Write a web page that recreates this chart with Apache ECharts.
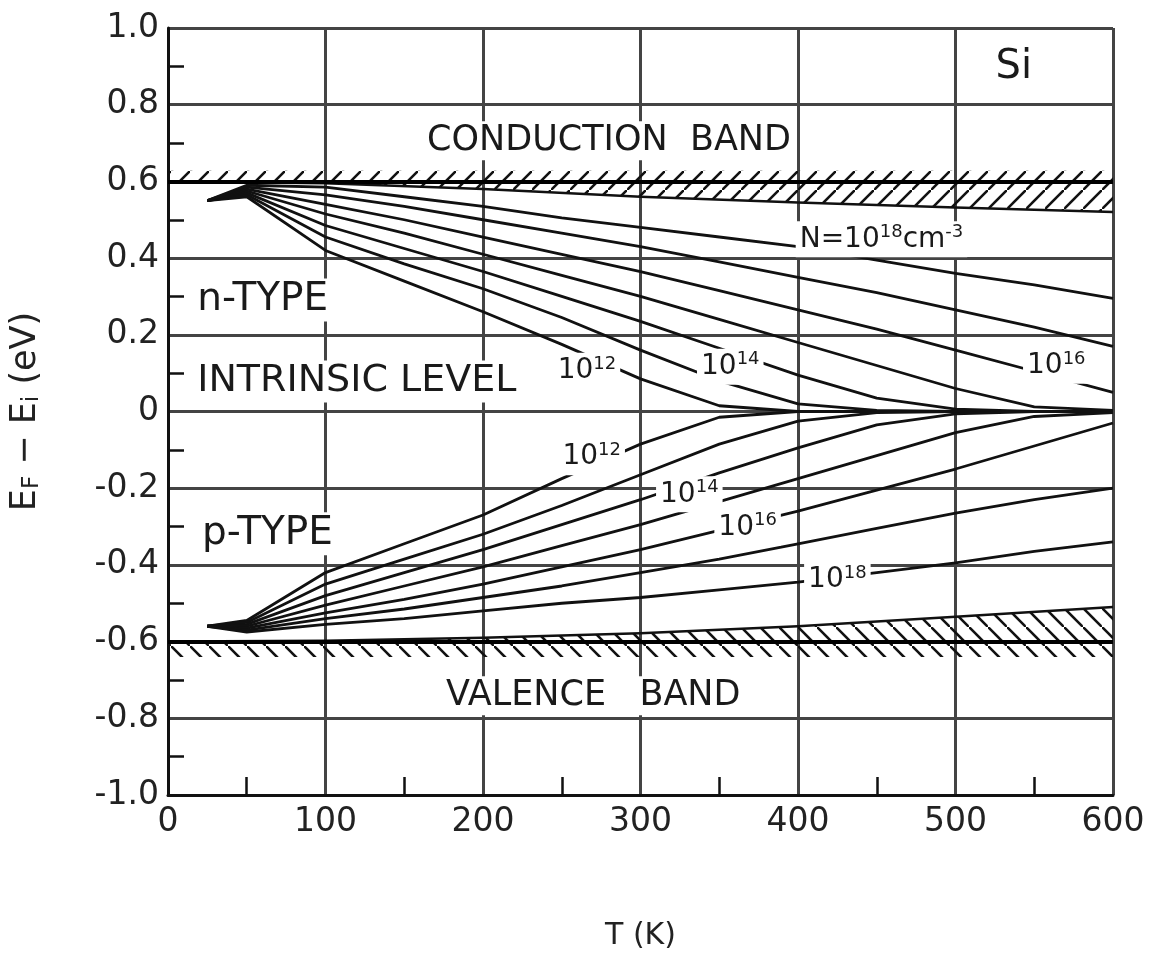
<!DOCTYPE html>
<html>
<head>
<meta charset="utf-8">
<script src="https://cdn.jsdelivr.net/npm/echarts@6/dist/echarts.min.js"></script>
<style>
  html, body { margin: 0; background: #fff; }
  #chart { width: 1151px; height: 956px; }
</style>
</head>
<body>
<div id="chart"></div>
<script>
// temperatures (K) where the curves were read
const temps = [25, 50, 100, 150, 200, 250, 300, 350, 400, 450, 500, 550, 600];

// n-type, E_F - E_i (eV)
const n12 = [0.55, 0.56, 0.42, 0.34, 0.26, 0.175, 0.085, 0.015, 0, 0, 0, 0, 0];
const n13 = [0.55, 0.565, 0.455, 0.385, 0.32, 0.245, 0.16, 0.08, 0.02, 0.003, 0, 0, 0];
const n14 = [0.55, 0.57, 0.485, 0.425, 0.365, 0.30, 0.235, 0.165, 0.095, 0.035, 0.006, 0, 0];
const n15 = [0.55, 0.575, 0.515, 0.465, 0.41, 0.355, 0.30, 0.24, 0.18, 0.12, 0.06, 0.012, 0.003];
const n16 = [0.55, 0.58, 0.54, 0.50, 0.455, 0.41, 0.365, 0.315, 0.265, 0.215, 0.16, 0.105, 0.05];
const n17 = [0.55, 0.585, 0.565, 0.535, 0.50, 0.465, 0.43, 0.39, 0.35, 0.31, 0.265, 0.22, 0.17];
const n18 = [0.55, 0.59, 0.585, 0.56, 0.535, 0.505, 0.48, 0.455, 0.43, 0.395, 0.36, 0.33, 0.295];

// p-type
const p12 = [-0.56, -0.545, -0.42, -0.345, -0.27, -0.175, -0.085, -0.015, 0, 0, 0, 0, 0];
const p13 = [-0.56, -0.55, -0.45, -0.385, -0.32, -0.245, -0.165, -0.085, -0.025, -0.003, 0, 0, 0];
const p14 = [-0.56, -0.555, -0.48, -0.42, -0.36, -0.295, -0.23, -0.16, -0.095, -0.035, -0.006, 0, 0];
const p15 = [-0.56, -0.56, -0.505, -0.455, -0.405, -0.35, -0.295, -0.235, -0.175, -0.115, -0.055, -0.013, -0.003];
const p16 = [-0.56, -0.565, -0.525, -0.49, -0.45, -0.405, -0.36, -0.31, -0.26, -0.205, -0.15, -0.09, -0.03];
const p17 = [-0.56, -0.57, -0.54, -0.515, -0.485, -0.455, -0.42, -0.385, -0.345, -0.305, -0.265, -0.23, -0.20];
const p18 = [-0.56, -0.575, -0.555, -0.54, -0.52, -0.50, -0.485, -0.465, -0.445, -0.42, -0.395, -0.365, -0.34];

// band edges
const bandT = [0, 100, 200, 300, 400, 500, 600];
const condEdge = [0.6, 0.595, 0.58, 0.56, 0.545, 0.532, 0.52];
const valEdge = [-0.6, -0.598, -0.59, -0.578, -0.56, -0.535, -0.51];

// text on the plot
const notes = [
  { t: 280, v: 0.706, text: 'CONDUCTION  BAND', align: 'center', size: 35 },
  { t: 270, v: -0.741, text: 'VALENCE   BAND', align: 'center', size: 35 },
  { t: 16, v: 0.291, text: 'n-TYPE', align: 'left', size: 39 },
  { t: 16, v: 0.078, text: 'INTRINSIC LEVEL', align: 'left', size: 38 },
  { t: 19, v: -0.319, text: 'p-TYPE', align: 'left', size: 39 },
  { t: 537, v: 0.896, text: 'Si', align: 'center', size: 40 },
  { t: 453, v: 0.449, text: 'N=10{s|18}cm{s|-3}', align: 'center', size: 28 },
  { t: 564, v: 0.119, text: '10{s|16}', align: 'center', size: 28 },
  { t: 357, v: 0.117, text: '10{s|14}', align: 'center', size: 28 },
  { t: 266, v: 0.106, text: '10{s|12}', align: 'center', size: 28 },
  { t: 269, v: -0.119, text: '10{s|12}', align: 'center', size: 28 },
  { t: 331, v: -0.216, text: '10{s|14}', align: 'center', size: 28 },
  { t: 368, v: -0.303, text: '10{s|16}', align: 'center', size: 28 },
  { t: 425, v: -0.439, text: '10{s|18}', align: 'center', size: 28 }
];

const FONT = 'DejaVu Sans, Liberation Sans, sans-serif';

function hatch(dir) {
  const s = 19;
  const c = document.createElement('canvas');
  c.width = s; c.height = s;
  const g = c.getContext('2d');
  g.strokeStyle = '#111';
  g.lineWidth = 2.6;
  g.beginPath();
  if (dir > 0) {
    g.moveTo(-2, s + 2); g.lineTo(s + 2, -2);
  } else {
    g.moveTo(-2, -2); g.lineTo(s + 2, s + 2);
  }
  g.stroke();
  return { image: c, repeat: 'repeat' };
}

function zip(xs, ys) {
  return xs.map((x, i) => [x, ys[i]]);
}

function curve(name, vals) {
  return {
    name: name,
    type: 'line',
    data: zip(temps, vals),
    symbol: 'none',
    silent: true,
    z: 3,
    lineStyle: { color: '#111', width: 2.8 }
  };
}

// hatched band: polygon between an edge and a fixed level
function band(edge, level, dir) {
  return {
    type: 'custom',
    silent: true,
    z: 2,
    data: zip(bandT, edge),
    renderItem: function (params, api) {
      if (params.dataIndex !== 0) return null;
      const line = [];
      for (let i = 0; i < bandT.length; i++) line.push(api.coord([bandT[i], edge[i]]));
      const pts = line.slice();
      pts.push(api.coord([600, level]));
      pts.push(api.coord([0, level]));
      return {
        type: 'group',
        children: [
          { type: 'polygon', shape: { points: pts }, style: { fill: hatch(dir) } },
          { type: 'polyline', shape: { points: line }, style: { stroke: '#111', lineWidth: 2.5, fill: null } }
        ]
      };
    }
  };
}

const chart = echarts.init(document.getElementById('chart'));

const option = {
  animation: false,
  backgroundColor: '#fff',
  grid: { left: 161, right: 38, top: 28, bottom: 147 },
  xAxis: {
    type: 'value',
    min: 0,
    max: 600,
    interval: 100,
    name: 'T (K)',
    nameLocation: 'middle',
    nameGap: 126,
    nameTextStyle: { fontFamily: FONT, fontSize: 30, color: '#222' },
    axisLine: { show: true, onZero: false, lineStyle: { color: '#111', width: 3 } },
    axisTick: { show: false, inside: true },
    minorTick: { show: true, splitNumber: 2, length: 18, lineStyle: { color: '#111', width: 2.5 } },
    axisLabel: { fontFamily: FONT, fontSize: 33, color: '#222', margin: 11 },
    splitLine: { show: true, lineStyle: { color: '#444', width: 3 } }
  },
  yAxis: {
    type: 'value',
    min: -1,
    max: 1,
    interval: 0.2,
    name: 'E{sub|F} − E{sub|i} (eV)',
    nameLocation: 'middle',
    nameRotate: 90,
    nameGap: 124,
    nameTextStyle: {
      fontFamily: FONT, fontSize: 35, color: '#222',
      rich: { sub: { fontFamily: FONT, fontSize: 23, verticalAlign: 'bottom', padding: [14, 0, 0, 0] } }
    },
    axisLine: { show: true, onZero: false, lineStyle: { color: '#111', width: 3 } },
    axisTick: { show: false, inside: true },
    minorTick: { show: true, splitNumber: 2, length: 16, lineStyle: { color: '#111', width: 2.5 } },
    axisLabel: {
      fontFamily: FONT, fontSize: 33, color: '#222', margin: 9,
      formatter: v => (Math.abs(v) < 1e-9 ? '0' : v.toFixed(1))
    },
    splitLine: { show: true, lineStyle: { color: '#444', width: 3 } }
  },
  series: [
    band(condEdge, 0.628, 1),
    band(valEdge, -0.64, -1),
    curve('n12', n12), curve('n13', n13), curve('n14', n14), curve('n15', n15),
    curve('n16', n16), curve('n17', n17), curve('n18', n18),
    curve('p12', p12), curve('p13', p13), curve('p14', p14), curve('p15', p15),
    curve('p16', p16), curve('p17', p17), curve('p18', p18),
    {
      type: 'line',
      data: [],
      silent: true,
      markLine: {
        symbol: 'none',
        silent: true,
        label: { show: false },
        lineStyle: { color: '#000', width: 4, type: 'solid' },
        data: [{ yAxis: 0.6 }, { yAxis: -0.6 }]
      }
    }
  ]
};

chart.setOption(option);

// labels placed through the chart's own scales
chart.setOption({
  graphic: notes.map(n => {
    const p = chart.convertToPixel({ gridIndex: 0 }, [n.t, n.v]);
    return {
      type: 'text',
      x: p[0],
      y: p[1],
      z: 100,
      silent: true,
      style: {
        text: n.text,
        fontFamily: FONT,
        fontSize: n.size,
        fill: '#1a1a1a',
        align: n.align,
        verticalAlign: 'middle',
        backgroundColor: '#fff',
        padding: [2, 4],
        rich: {
          s: { fontFamily: FONT, fontSize: 18, verticalAlign: 'top', padding: [0, 0, 14, 0], fill: '#1a1a1a' }
        }
      }
    };
  })
});
</script>
</body>
</html>
